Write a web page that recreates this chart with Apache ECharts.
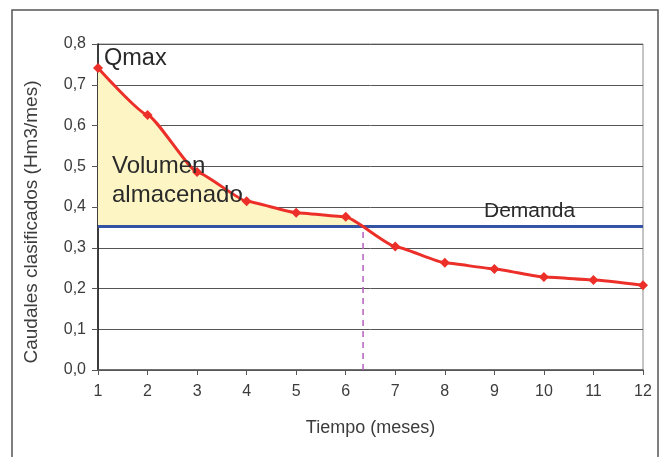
<!DOCTYPE html>
<html>
<head>
<meta charset="utf-8">
<script src="https://cdn.jsdelivr.net/npm/echarts@6/dist/echarts.min.js"></script>
<style>
  html, body { margin: 0; padding: 0; background: #fff; }
  #chart { width: 667px; height: 457px; }
</style>
</head>
<body>
<div id="chart"></div>
<script>
// datos
const meses = [1, 2, 3, 4, 5, 6, 7, 8, 9, 10, 11, 12];
const caudales = [0.741, 0.626, 0.486, 0.414, 0.386, 0.376, 0.303, 0.263, 0.248, 0.228, 0.221, 0.208];
const demanda = 0.352;
const mesCorte = 6.35;
const yTicks = [0, 0.1, 0.2, 0.3, 0.4, 0.5, 0.6, 0.7, 0.8];

const curva = meses.map((m, i) => [m, caudales[i]]);
// zona de volumen almacenado: curva hasta el corte con la demanda
const volumen = curva.filter(p => p[0] <= mesCorte).concat([[mesCorte, demanda]]);

const chart = echarts.init(document.getElementById('chart'));
const fuente = 'Liberation Sans';
const suave = 0.14;
const gris = '#3c3c3c';

const option = {
    animation: false,
    textStyle: { fontFamily: fuente },
    grid: {
        left: 98, right: 24, top: 44, bottom: 87,
        show: true, borderColor: '#8a8a8a', borderWidth: 1
    },
    xAxis: {
        type: 'value',
        min: 1, max: 12, interval: 1,
        name: 'Tiempo (meses)',
        nameLocation: 'middle',
        nameGap: 49,
        nameTextStyle: { fontSize: 18, color: gris, fontFamily: fuente },
        axisLine: { lineStyle: { color: '#555', width: 1.5 } },
        axisTick: { show: true, length: 5, lineStyle: { color: '#555' } },
        axisLabel: { fontSize: 16, color: gris, margin: 14 },
        splitLine: { show: false }
    },
    yAxis: {
        type: 'value',
        min: yTicks[0], max: yTicks[yTicks.length - 1], interval: 0.1,
        axisLine: { show: true, lineStyle: { color: '#111', width: 1.5 } },
        axisTick: { show: true, length: 6, lineStyle: { color: '#555' } },
        axisLabel: {
            fontSize: 16, color: gris, margin: 12,
            formatter: v => v.toFixed(1).replace('.', ',')
        },
        splitLine: { show: true, lineStyle: { color: '#555', width: 1 } }
    },
    series: [
        {
            name: 'Volumen almacenado',
            type: 'line',
            data: volumen,
            smooth: suave,
            smoothMonotone: 'x',
            symbol: 'none',
            lineStyle: { width: 0 },
            areaStyle: { color: '#fdf6c4', opacity: 1, origin: demanda },
            z: 1
        },
        {
            name: 'Demanda',
            type: 'line',
            data: [[meses[0], demanda], [meses[meses.length - 1], demanda]],
            symbol: 'none',
            lineStyle: { color: '#3553a5', width: 3 },
            z: 3
        },
        {
            name: 'Corte',
            type: 'line',
            data: [[mesCorte, 0], [mesCorte, demanda]],
            symbol: 'none',
            lineStyle: { color: '#b45fbf', width: 1.5, type: [6, 5] },
            z: 2
        },
        {
            name: 'Caudales',
            type: 'line',
            data: curva,
            smooth: suave,
            smoothMonotone: 'x',
            symbol: 'diamond',
            symbolSize: 10,
            itemStyle: { color: '#ec2f29' },
            lineStyle: { color: '#ec2f29', width: 3 },
            z: 4
        }
    ],
    graphic: [
        {
            type: 'rect',
            shape: { x: 12, y: 10, width: 646, height: 470 },
            style: { fill: 'none', stroke: '#555', lineWidth: 1.5 },
            silent: true
        },
        {
            // título del eje Y
            type: 'text', x: 32, y: 222, rotation: Math.PI / 2, z: 10,
            style: {
                text: 'Caudales clasificados (Hm3/mes)', fontSize: 19, fill: gris,
                fontFamily: fuente, align: 'center', verticalAlign: 'middle'
            }
        },
        {
            type: 'text', left: 104, top: 47, z: 10,
            style: { text: 'Qmax', fontSize: 23.5, fill: '#2a2a2a', fontFamily: fuente }
        },
        {
            type: 'text', left: 112, top: 152, z: 10,
            style: { text: 'Volumen\nalmacenado', fontSize: 24, lineHeight: 29, fill: '#2a2a2a', fontFamily: fuente }
        },
        {
            type: 'text', left: 484, top: 201, z: 10,
            style: { text: 'Demanda', fontSize: 21, fill: '#2a2a2a', fontFamily: fuente }
        }
    ]
};

chart.setOption(option);
</script>
</body>
</html>
